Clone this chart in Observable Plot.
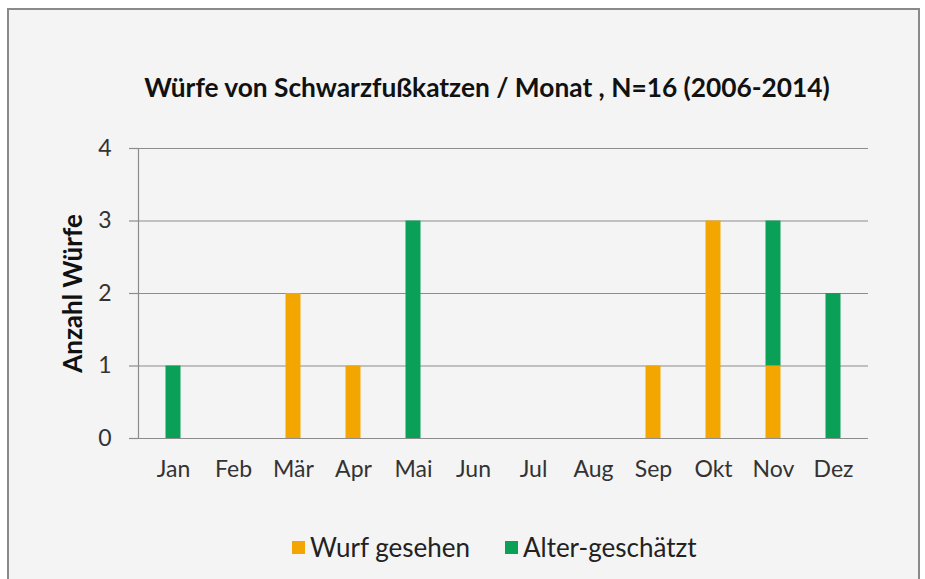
<!DOCTYPE html>
<html>
<head>
<meta charset="utf-8">
<script src="https://cdn.jsdelivr.net/npm/d3@7"></script>
<script src="https://cdn.jsdelivr.net/npm/@observablehq/plot@0.6"></script>
<style>
  html, body { margin: 0; padding: 0; background: #ffffff; }
  #wrap { position: relative; width: 925px; height: 579px; overflow: hidden; font-family: Lato, "Open Sans", sans-serif; }
  #box { position: absolute; left: 7px; top: 8px; width: 913px; height: 590px; border: 2px solid #8a8a8a; background: #f4f4f4; box-sizing: border-box; }
  #title { position: absolute; left: 0; width: 925px; top: 71px; line-height: 32px; text-align: center; font-size: 26.3px; font-weight: bold; color: #111; white-space: nowrap; padding-left: 49px; box-sizing: border-box; }
  #chart { position: absolute; left: 0; top: 0; }
  #legend { position: absolute; left: 292px; top: 531px; display: flex; gap: 35px; font-size: 26px; line-height: 32px; color: #222; }
  .item { display: flex; align-items: center; gap: 5px; }
  .sw { width: 13px; height: 13px; display: inline-block; }
</style>
</head>
<body>
<div id="wrap">
  <div id="box"></div>
  <div id="title"></div>
  <div id="chart"></div>
  <div id="legend"></div>
</div>
<script>
const title = "Würfe von Schwarzfußkatzen / Monat , N=16 (2006-2014)";
const months = ["Jan","Feb","Mär","Apr","Mai","Jun","Jul","Aug","Sep","Okt","Nov","Dez"];
const wurfGesehen = [0,0,2,1,0,0,0,0,1,3,1,0];
const alterGeschaetzt = [1,0,0,0,3,0,0,0,0,0,2,2];
const seriesNames = ["Wurf gesehen","Alter-geschätzt"];
const seriesColors = ["#f4a600","#0aa058"];
const yTicks = [0,1,2,3,4];
const yLabel = "Anzahl Würfe";

const rows = [];
months.forEach((m,i) => {
  rows.push({month: m, series: seriesNames[0], value: wurfGesehen[i]});
  rows.push({month: m, series: seriesNames[1], value: alterGeschaetzt[i]});
});

document.getElementById("title").textContent = title;

const chart = Plot.plot({
  width: 925,
  height: 579,
  marginLeft: 138,
  marginRight: 57,
  marginTop: 148,
  marginBottom: 141,
  style: {background: "transparent", fontFamily: "Lato, 'Open Sans', sans-serif", fontSize: "23px", color: "#333"},
  x: {domain: months, padding: 0, label: null},
  y: {domain: [0,4], label: null},
  color: {domain: seriesNames, range: seriesColors},
  marks: [
    Plot.gridY(yTicks, {stroke: "#8c8c8c", strokeOpacity: 1, strokeWidth: 1.2}),
    Plot.axisY({ticks: yTicks, tickSize: 9, tickPadding: 18, stroke: "#8c8c8c", strokeWidth: 1.2, tickFormat: d3.format("d"), label: null, fontSize: 23}),
    Plot.frame({anchor: "left", stroke: "#8c8c8c", strokeWidth: 1.2}),
    Plot.axisX({tickSize: 0, tickPadding: 22, label: null, fontSize: 23}),
    Plot.barY(rows, Plot.stackY({x: "month", y: "value", fill: "series", order: seriesNames, insetLeft: 22.5, insetRight: 22.5})),
    Plot.text([yLabel], {frameAnchor: "left", textAnchor: "middle", dx: -65, rotate: -90, fontWeight: "bold", fontSize: 26, fill: "#111"})
  ]
});
document.getElementById("chart").appendChild(chart);

const legend = document.getElementById("legend");
seriesNames.forEach((n,i) => {
  const it = document.createElement("div");
  it.className = "item";
  const sw = document.createElement("span");
  sw.className = "sw";
  sw.style.background = seriesColors[i];
  const t = document.createElement("span");
  t.textContent = n;
  it.appendChild(sw); it.appendChild(t);
  legend.appendChild(it);
});
</script>
</body>
</html>
